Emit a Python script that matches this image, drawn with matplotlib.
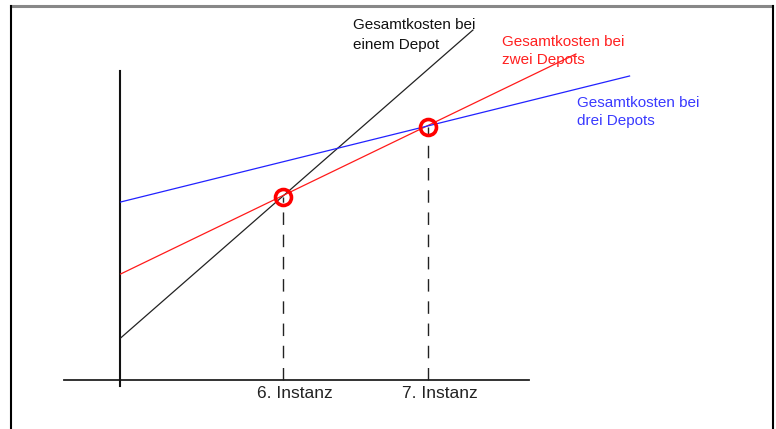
import matplotlib.pyplot as plt

# schematic: total cost vs. number of instances
instances = [6, 7]
instance_labels = ['6. Instanz', '7. Instanz']
crossing_costs = [9.15, 12.65]

one_depot_x = [4.88, 7.31]
one_depot_y = [2.1, 17.5]
two_depots_x = [4.88, 8.02]
two_depots_y = [5.3, 16.3]
three_depots_x = [4.88, 8.39]
three_depots_y = [8.9, 15.2]

series_labels = ['Gesamtkosten bei\neinem Depot',
                 'Gesamtkosten bei\nzwei Depots',
                 'Gesamtkosten bei\ndrei Depots']

plt.rcParams['font.family'] = ['Liberation Sans', 'DejaVu Sans']

fig = plt.figure(figsize=(7.76, 4.29), dpi=100)
ax = fig.add_axes([0, 0, 1, 1])
ax.set_xlim(6 - 283 / 145, 6 + 493 / 145)
ax.set_ylim(-49 / 20, 380 / 20)
ax.axis('off')

# frame around the picture
fig.add_artist(plt.Line2D([0.0142, 0.995], [0.985, 0.985], color='#888888', lw=2.2))
fig.add_artist(plt.Line2D([0.0148, 0.0148], [0.0, 0.987], color='black', lw=1.5))
fig.add_artist(plt.Line2D([0.9955, 0.9955], [0.0, 0.987], color='black', lw=1.5))

# axes
ax.plot([4.49, 7.70], [0, 0], color='#222222', lw=1.3)
ax.plot([4.876, 4.876], [-0.3, 15.45], color='#111111', lw=1.5)

ax.plot(one_depot_x, one_depot_y, color='#222222', lw=0.9)
ax.plot(two_depots_x, two_depots_y, color='#ff1a1a', lw=0.9)
ax.plot(three_depots_x, three_depots_y, color='#2222ff', lw=0.9)

for x, y in zip(instances, crossing_costs):
    ax.plot([x, x], [0, y], color='#222222', lw=1.0, ls=(0, (9, 7)))
ax.plot(instances, crossing_costs, 'o', ms=11.5, mfc='none', mec='#ff0000', mew=2.6)

for x, lab in zip(instances, instance_labels):
    ax.text(x + 0.08, -0.3, lab, ha='center', va='top', fontsize=12.5, color='#222222')

ax.text(6.483, 18.1, series_labels[0], ha='left', va='top', fontsize=11,
        color='#111111', linespacing=1.5)
ax.text(7.51, 17.25, series_labels[1], ha='left', va='top', fontsize=11,
        color='#ff2020', linespacing=1.35)
ax.text(8.03, 14.2, series_labels[2], ha='left', va='top', fontsize=11,
        color='#3a3aff', linespacing=1.35)

fig.savefig('out.png', dpi=100)
